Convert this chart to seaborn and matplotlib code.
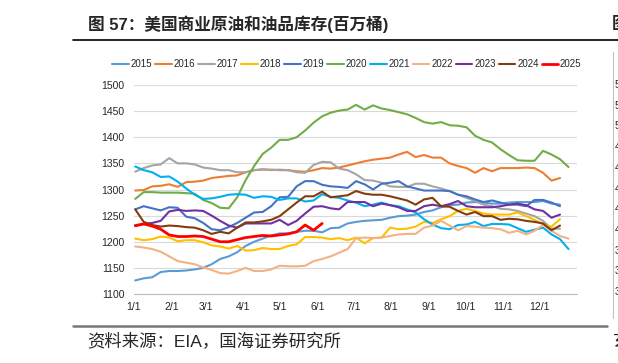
import pandas as pd
import matplotlib
matplotlib.use('Agg')
import matplotlib.pyplot as plt
import seaborn as sns

# weekly commercial crude + products stocks (million bbl)
y2015 = [1126, 1130, 1132, 1142, 1144, 1144, 1145, 1147, 1150, 1157, 1167, 1172, 1180, 1192, 1200, 1206,
         1212, 1216, 1216, 1219, 1221, 1221, 1218, 1226, 1227, 1235, 1238, 1240, 1241, 1242, 1246, 1249,
         1250, 1252, 1257, 1260, 1266, 1270, 1271, 1275, 1276, 1275, 1273, 1273, 1275, 1276, 1276, 1276,
         1278, 1273, 1271]
y2016 = [1298, 1299, 1306, 1307, 1310, 1305, 1314, 1315, 1317, 1322, 1324, 1326, 1327, 1333, 1337, 1338,
         1338, 1337, 1337, 1335, 1334, 1337, 1341, 1340, 1342, 1346, 1350, 1354, 1357, 1359, 1361, 1367,
         1372, 1362, 1366, 1361, 1361, 1350, 1345, 1341, 1332, 1341, 1335, 1341, 1341, 1341, 1342, 1341,
         1332, 1317, 1322]
y2017 = [1334, 1341, 1346, 1348, 1360, 1350, 1350, 1348, 1342, 1340, 1337, 1337, 1333, 1333, 1337, 1339,
         1337, 1338, 1337, 1333, 1332, 1347, 1353, 1352, 1340, 1337, 1329, 1318, 1317, 1313, 1306, 1305,
         1305, 1311, 1311, 1306, 1302, 1297, 1290, 1284, 1278, 1271, 1268, 1263, 1262, 1259, 1254, 1249,
         1240, 1225, 1225]
y2018 = [1206, 1203, 1205, 1210, 1208, 1201, 1203, 1203, 1199, 1193, 1191, 1187, 1192, 1183, 1184, 1188,
         1186, 1186, 1192, 1195, 1209, 1209, 1208, 1205, 1207, 1203, 1208, 1197, 1207, 1208, 1227, 1224,
         1225, 1229, 1238, 1236, 1243, 1249, 1259, 1263, 1259, 1254, 1252, 1252, 1252, 1256, 1249, 1242,
         1233, 1229, 1243]
y2019 = [1262, 1268, 1264, 1260, 1266, 1265, 1248, 1245, 1236, 1224, 1222, 1228, 1236, 1246, 1256, 1257,
         1268, 1285, 1286, 1306, 1316, 1316, 1309, 1306, 1305, 1303, 1316, 1310, 1300, 1311, 1313, 1316,
         1306, 1302, 1298, 1298, 1298, 1297, 1290, 1287, 1281, 1276, 1279, 1275, 1271, 1271, 1268, 1280,
         1280, 1275, 1268]
y2020 = [1282, 1295, 1295, 1294, 1294, 1294, 1293, 1292, 1280, 1274, 1265, 1264, 1285, 1318, 1345, 1368,
         1380, 1395, 1395, 1400, 1413, 1428, 1440, 1447, 1451, 1453, 1462, 1453, 1461, 1455, 1452, 1448,
         1444, 1437, 1429, 1426, 1429, 1423, 1422, 1419, 1403, 1395, 1390, 1377, 1366, 1356, 1355, 1355,
         1374, 1367, 1358, 1343]
y2021 = [1344, 1337, 1333, 1324, 1325, 1315, 1302, 1290, 1282, 1283, 1286, 1290, 1291, 1290, 1284, 1287,
         1286, 1280, 1283, 1283, 1277, 1279, 1291, 1286, 1284, 1279, 1275, 1268, 1271, 1275, 1270, 1268,
         1262, 1256, 1243, 1233, 1226, 1224, 1232, 1233, 1238, 1230, 1234, 1234, 1233, 1226, 1219, 1223,
         1227, 1214, 1205, 1186]
y2022 = [1191, 1189, 1186, 1181, 1172, 1163, 1160, 1157, 1151, 1146, 1140, 1139, 1144, 1150, 1144, 1144,
         1147, 1154, 1153, 1153, 1154, 1163, 1167, 1172, 1179, 1186, 1207, 1208, 1207, 1208, 1211, 1214,
         1215, 1215, 1227, 1231, 1240, 1231, 1222, 1230, 1229, 1227, 1226, 1224, 1217, 1221, 1214, 1221,
         1232, 1221, 1211, 1206]
y2023 = [1230, 1234, 1236, 1240, 1258, 1261, 1259, 1260, 1259, 1250, 1240, 1231, 1227, 1235, 1235, 1235,
         1235, 1242, 1232, 1240, 1254, 1267, 1268, 1264, 1262, 1276, 1276, 1276, 1268, 1273, 1270, 1266,
         1259, 1259, 1268, 1271, 1268, 1272, 1278, 1268, 1266, 1266, 1266, 1268, 1271, 1273, 1270, 1262,
         1259, 1246, 1252]
y2024 = [1262, 1238, 1232, 1229, 1231, 1230, 1228, 1227, 1222, 1215, 1219, 1216, 1227, 1237, 1237, 1239,
         1242, 1249, 1262, 1275, 1287, 1287, 1296, 1285, 1287, 1289, 1297, 1292, 1290, 1290, 1287, 1283,
         1279, 1271, 1281, 1284, 1268, 1267, 1259, 1252, 1257, 1249, 1249, 1242, 1244, 1243, 1240, 1238,
         1235, 1222, 1231]
y2025 = [1231, 1234, 1230, 1224, 1213, 1210, 1210, 1211, 1210, 1205, 1200, 1200, 1204, 1208, 1210, 1212,
         1211, 1213, 1215, 1219, 1232, 1222, 1235]

years = ['2015', '2016', '2017', '2018', '2019', '2020', '2021', '2022', '2023', '2024', '2025']
series = [y2015, y2016, y2017, y2018, y2019, y2020, y2021, y2022, y2023, y2024, y2025]
colors = ['#5B9BD5', '#ED7D31', '#A5A5A5', '#FFC000', '#4472C4', '#70AD47',
          '#00B0F0', '#F4B183', '#7030A0', '#843C0C', '#FF0000']
month_days = [0, 31, 59, 90, 120, 151, 181, 212, 243, 273, 304, 334]
month_labels = ['1/1', '2/1', '3/1', '4/1', '5/1', '6/1', '7/1', '8/1', '9/1', '10/1', '11/1', '12/1']

rows = []
for yr, vals in zip(years, series):
    for i, v in enumerate(vals):
        rows.append({'day': 1 + 7 * i, 'stock': v, 'year': yr})
df = pd.DataFrame(rows)

sns.set_style('white')
plt.rcParams['font.family'] = ['Liberation Sans', 'Noto Sans CJK SC', 'DejaVu Sans']

fig = plt.figure(figsize=(6.18, 3.63), dpi=100)
ax = fig.add_axes([134 / 618, 1 - 294 / 363, 443 / 618, 209 / 363])

sns.lineplot(data=df, x='day', y='stock', hue='year', palette=dict(zip(years, colors)),
             linewidth=1.5, ax=ax, legend=True)
for line, yr in zip(ax.get_lines(), years):
    if yr == '2025':
        line.set_linewidth(2.0)

ax.set_xlim(0, 365)
ax.set_ylim(1100, 1500)
ax.set_yticks(range(1100, 1501, 50))
ax.set_xticks(month_days)
ax.set_xticklabels(month_labels)
ax.set_xlabel('')
ax.set_ylabel('')
ax.grid(axis='y', color='#D9D9D9', linewidth=0.8)
for s in ['top', 'right', 'left']:
    ax.spines[s].set_visible(False)
ax.spines['bottom'].set_color('#BFBFBF')
ax.tick_params(axis='x', length=3, color='#BFBFBF', labelsize=7.5, pad=3)
ax.tick_params(axis='y', length=0, labelsize=7.5, pad=7)
ax.set_axisbelow(True)

handles, labels = ax.get_legend_handles_labels()
ax.get_legend().remove()
for h, yr in zip(handles, labels):
    h.set_linewidth(2.0 if yr == '2025' else 1.5)
fig.legend(handles, labels, loc='center', bbox_to_anchor=(347 / 618, 1 - 64 / 363), ncol=11,
           frameon=False, fontsize=7, handlelength=1.7, handletextpad=0.2, columnspacing=0.3)

fig.text(88 / 618, 1 - 24 / 363, '图 57：美国商业原油和油品库存(百万桶)', fontsize=12,
         fontweight='bold', va='center', ha='left')
fig.add_artist(plt.Line2D([73 / 618, 1], [1 - 40 / 363] * 2, color='black', linewidth=1.2))
fig.add_artist(plt.Line2D([73 / 618, 607 / 618], [1 - 326 / 363] * 2, color='#777777', linewidth=1.8))
fig.text(87 / 618, 1 - 341 / 363, '资料来源：EIA，国海证券研究所', fontsize=12.5, va='center', ha='left')

# fragment of the neighbouring chart at the right edge
fig.text(612 / 618, 1 - 24 / 363, '图', fontsize=12, fontweight='bold', va='center', ha='left')
fig.add_artist(plt.Line2D([613 / 618] * 2, [1 - 52 / 363, 1 - 318 / 363], color='#BFBFBF', linewidth=0.8))
for k, d in enumerate(['5', '5', '5', '4', '4', '4', '4', '4', '3', '3', '3']):
    fig.text(615 / 618, 1 - (85 + 20.7 * k) / 363, d, fontsize=7.5, va='center', ha='left')
fig.text(613 / 618, 1 - 341 / 363, '玄', fontsize=12.5, va='center', ha='left')

fig.savefig('out.png', dpi=100)
